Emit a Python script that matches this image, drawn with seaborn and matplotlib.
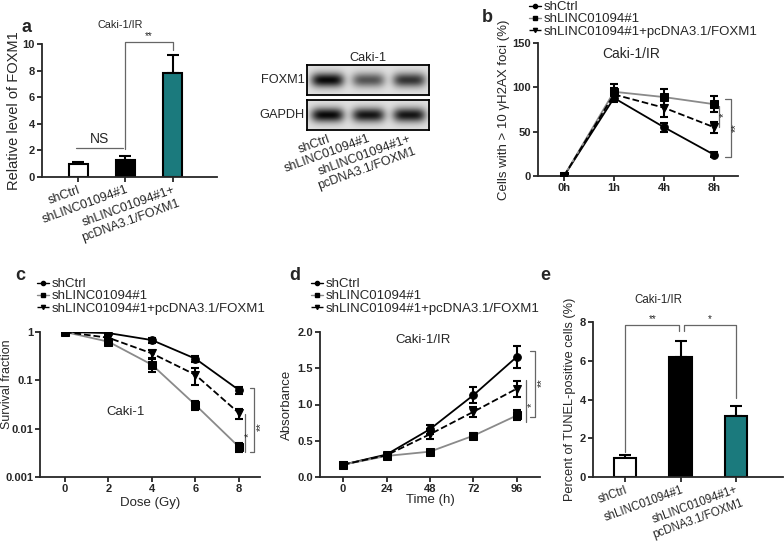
import numpy as np
import matplotlib
matplotlib.use('Agg')
import matplotlib.pyplot as plt
from matplotlib.lines import Line2D
import seaborn as sns

sns.set_style('ticks')
plt.rcParams['font.family'] = ['Liberation Sans', 'DejaVu Sans']

# ---- data ----
groups = ['shCtrl', 'shLINC01094#1', 'shLINC01094#1+pcDNA3.1/FOXM1']
bar_labels = ['shCtrl', 'shLINC01094#1', 'shLINC01094#1+\npcDNA3.1/FOXM1']
bar_colors = ['white', 'black', '#0b8a8d']

foxm1_mean = [1.0, 1.3, 7.85]
foxm1_err = [0.15, 0.25, 1.35]

blot_proteins = ['FOXM1', 'GAPDH']
blot_foxm1 = [0.85, 0.55, 0.68]
blot_gapdh = [0.85, 0.80, 0.80]

foci_times = ['0h', '1h', '4h', '8h']
foci_ctrl = [0, 88, 55, 24]
foci_ctrl_err = [0, 5, 5, 3]
foci_sh = [0, 95, 89, 81]
foci_sh_err = [0, 9, 9, 9]
foci_combo = [0, 92, 77, 55]
foci_combo_err = [0, 7, 10, 6]

dose = [0, 2, 4, 6, 8]
surv_ctrl = [1.0, 0.95, 0.68, 0.28, 0.063]
surv_ctrl_err = [0.0, 0.04, 0.08, 0.04, 0.01]
surv_sh = [1.0, 0.63, 0.21, 0.031, 0.0042]
surv_sh_err = [0.0, 0.05, 0.06, 0.007, 0.0009]
surv_combo = [1.0, 0.76, 0.36, 0.13, 0.021]
surv_combo_err = [0.0, 0.05, 0.07, 0.05, 0.005]

time_h = [0, 24, 48, 72, 96]
abs_ctrl = [0.17, 0.31, 0.66, 1.13, 1.66]
abs_ctrl_err = [0.01, 0.02, 0.06, 0.11, 0.15]
abs_sh = [0.17, 0.29, 0.35, 0.57, 0.85]
abs_sh_err = [0.01, 0.01, 0.02, 0.04, 0.07]
abs_combo = [0.17, 0.30, 0.59, 0.90, 1.22]
abs_combo_err = [0.01, 0.02, 0.07, 0.07, 0.11]

tunel_mean = [1.0, 6.2, 3.15]
tunel_err = [0.12, 0.8, 0.5]

# line styles for the three groups
line_colors = ['black', '#8a8a8a', 'black']
line_styles = ['-', '-', '--']
line_markers = ['o', 's', 'v']

W, H = 784, 545
fig = plt.figure(figsize=(W / 100, H / 100), dpi=100)


def px_axes(x0, y0, x1, y1):
    # axes from pixel box (top-left origin)
    return fig.add_axes([x0 / W, 1 - y1 / H, (x1 - x0) / W, (y1 - y0) / H])


def style_axis(ax, size=8):
    sns.despine(ax=ax)
    for s in ['left', 'bottom']:
        ax.spines[s].set_linewidth(1.3)
    ax.tick_params(width=1.3, length=3.5, labelsize=size, pad=1.5)
    plt.setp(ax.get_yticklabels(), fontweight='bold')
    plt.setp(ax.get_xticklabels(), fontweight='bold')


def bracket(ax, xs, ys, **kw):
    ax.plot(xs, ys, color='#666666', lw=0.9, clip_on=False, **kw)


def draw_bars(ax, means, errs, size):
    sns.barplot(x=bar_labels, y=means, hue=bar_labels, palette=bar_colors,
                legend=False, width=0.4, edgecolor='black', linewidth=1.5,
                ax=ax, zorder=2)
    ax.errorbar(range(len(means)), means, yerr=[np.zeros(len(errs)), errs],
                fmt='none', ecolor='black', elinewidth=1.5, capsize=4,
                capthick=1.5, zorder=1)
    style_axis(ax)
    ax.set_xticks(range(len(means)))
    ax.set_xticklabels(bar_labels, rotation=20, ha='right',
                       rotation_mode='anchor', fontsize=size, fontweight='normal')


def draw_lines(ax, x, series, errs):
    for y, e, c, ls, m in zip(series, errs, line_colors, line_styles, line_markers):
        sns.lineplot(x=x, y=y, ax=ax, color=c, linestyle=ls, marker=m,
                     markersize=5.5, markerfacecolor='black',
                     markeredgecolor='black', linewidth=1.3, zorder=2)
        ax.errorbar(x, y, yerr=e, fmt='none', ecolor='black', elinewidth=1.5,
                    capsize=3, capthick=1.5, zorder=3)


def line_legend(x, y):
    handles = [Line2D([], [], color=c, linestyle=ls, marker=m, markersize=3,
                      markerfacecolor='black', markeredgecolor='black', lw=1)
               for c, ls, m in zip(line_colors, line_styles, line_markers)]
    fig.legend(handles, groups, loc='upper left',
               bbox_to_anchor=(x / W, 1 - y / H), frameon=False,
               fontsize=9.5, handlelength=0.9, handletextpad=0.2,
               labelspacing=0.0, borderpad=0, borderaxespad=0)


def panel_letter(x, y, s):
    fig.text(x / W, 1 - y / H, s, fontsize=13, fontweight='bold',
             ha='center', va='center')


# ---- panel a: bars ----
ax = px_axes(42, 44, 217, 177)
draw_bars(ax, foxm1_mean, foxm1_err, 9)
ax.set_xlim(-0.76, 2.93)
ax.set_ylim(0, 10)
ax.set_yticks([0, 2, 4, 6, 8, 10])
plt.setp(ax.get_yticklabels(), fontweight='bold')
ax.set_ylabel('Relative level of FOXM1', fontsize=10.5, labelpad=1)
bracket(ax, [-0.04, 0.95], [2.2, 2.2])
ax.text(0.45, 2.35, 'NS', fontsize=10, ha='center', va='bottom')
bracket(ax, [1, 1, 2, 2], [2.1, 10.15, 10.15, 9.55])
ax.text(1.5, 10.2, '**', fontsize=7, ha='center', va='bottom')
fig.text(120 / W, 1 - 25 / H, 'Caki-1/IR', fontsize=7.8, ha='center', va='center')
panel_letter(26, 27, 'a')

# ---- western blot ----
xg = np.linspace(0, 3, 240)
yg = np.linspace(0, 1, 60)
XX, YY = np.meshgrid(xg, yg)
for i, (prot, amps) in enumerate(zip(blot_proteins, [blot_foxm1, blot_gapdh])):
    top = 65 + i * 35
    bax = px_axes(307, top, 429, top + 30)
    img = np.full(XX.shape, 0.88)
    for k, a in enumerate(amps):
        band = np.exp(-((XX - (k + 0.5)) / 0.4) ** 4) * np.exp(-((YY - 0.5) / 0.24) ** 2)
        img -= a * band
    bax.imshow(img, cmap='gray', vmin=0, vmax=1, aspect='auto',
               extent=[0, 3, 0, 1], interpolation='bilinear')
    for s in bax.spines.values():
        s.set_linewidth(1.3)
        s.set_color('black')
    bax.set_yticks([])
    bax.set_xticks([])
    bax.text(-0.02, 0.5, prot, transform=bax.transAxes, ha='right',
             va='center', fontsize=9.2)
    if i == 0:
        bax.set_title('Caki-1', fontsize=9.2, pad=3)
    else:
        bax.set_xticks([0.5, 1.5, 2.5])
        bax.set_xticklabels(bar_labels, rotation=20, ha='right',
                            rotation_mode='anchor', fontsize=9)
        bax.tick_params(length=0, pad=2)

# ---- panel b: foci ----
ax = px_axes(538, 43, 738, 176)
xb = list(range(len(foci_times)))
draw_lines(ax, xb, [foci_ctrl, foci_sh, foci_combo],
           [foci_ctrl_err, foci_sh_err, foci_combo_err])
ax.set_xlim(-0.52, 3.48)
ax.set_ylim(0, 150)
ax.set_yticks([0, 50, 100, 150])
ax.set_xticks(xb)
ax.set_xticklabels(foci_times)
style_axis(ax)
ax.set_ylabel('Cells with > 10 \u03b3H2AX foci (%)', fontsize=9.5, labelpad=2)
ax.text(1.35, 145, 'Caki-1/IR', fontsize=10, ha='center', va='top')
bracket(ax, [3.1, 3.1], [foci_sh[-1] - 2, foci_combo[-1]])
ax.text(3.2, 69, '*', fontsize=8, rotation=90, ha='center', va='center')
bracket(ax, [3.22, 3.34, 3.34, 3.22], [87, 87, 21, 21])
ax.text(3.43, 54, '**', fontsize=8, rotation=90, ha='center', va='center')
line_legend(529, 1)
panel_letter(487, 18, 'b')

# ---- panel c: survival ----
ax = px_axes(40, 332, 260, 477)
draw_lines(ax, dose, [surv_ctrl, surv_sh, surv_combo],
           [surv_ctrl_err, surv_sh_err, surv_combo_err])
ax.set_yscale('log')
ax.set_ylim(0.001, 1)
ax.set_xlim(-1.15, 8.97)
ax.set_xticks(dose)
ax.set_yticks([0.001, 0.01, 0.1, 1])
ax.set_yticklabels(['0.001', '0.01', '0.1', '1'])
ax.minorticks_off()
style_axis(ax)
ax.set_ylabel('Survival fraction', fontsize=9)
ax.yaxis.set_label_coords((13.5 - 40) / 220, 0.64)
ax.set_xlabel('Dose (Gy)', fontsize=9.5, labelpad=2)
ax.text(2.8, 0.022, 'Caki-1', fontsize=9.5, ha='center', va='center')
bracket(ax, [8.28, 8.28], [0.02, 0.0033])
ax.text(8.48, 0.0075, '*', fontsize=8, rotation=90, ha='center', va='center')
bracket(ax, [8.5, 8.69, 8.69, 8.5], [0.068, 0.068, 0.0033, 0.0033])
ax.text(9.0, 0.011, '**', fontsize=8, rotation=90, ha='center', va='center')
line_legend(37, 278)
panel_letter(20, 276, 'c')

# ---- panel d: absorbance ----
ax = px_axes(320, 332, 540, 477)
draw_lines(ax, time_h, [abs_ctrl, abs_sh, abs_combo],
           [abs_ctrl_err, abs_sh_err, abs_combo_err])
ax.set_xlim(-12.7, 108.7)
ax.set_ylim(0, 2.0)
ax.set_xticks(time_h)
ax.set_yticks([0, 0.5, 1.0, 1.5, 2.0])
ax.set_yticklabels(['0.0', '0.5', '1.0', '1.5', '2.0'])
style_axis(ax)
ax.set_ylabel('Absorbance', fontsize=9.5, labelpad=3)
ax.set_xlabel('Time (h)', fontsize=9.5, labelpad=0)
ax.text(44, 1.97, 'Caki-1/IR', fontsize=9.5, ha='center', va='top')
bracket(ax, [101, 101], [1.34, 0.76])
ax.text(104, 1.0, '*', fontsize=8, rotation=90, ha='center', va='center')
bracket(ax, [103, 106, 106, 103], [1.74, 1.74, 0.83, 0.83])
ax.text(109.5, 1.3, '**', fontsize=8, rotation=90, ha='center', va='center')
line_legend(311, 278)
panel_letter(295, 276, 'd')

# ---- panel e: TUNEL ----
ax = px_axes(593, 322, 783, 477)
draw_bars(ax, tunel_mean, tunel_err, 8.3)
ax.set_xlim(-0.58, 2.85)
ax.set_ylim(0, 8)
ax.set_yticks([0, 2, 4, 6, 8])
plt.setp(ax.get_yticklabels(), fontweight='bold')
ax.set_ylabel('Percent of TUNEL-positive cells (%)', fontsize=9.2, labelpad=3)
bracket(ax, [0, 0, 0.975, 0.975], [1.3, 7.86, 7.86, 7.55])
ax.text(0.5, 7.9, '**', fontsize=7, ha='center', va='bottom')
bracket(ax, [1.066, 1.066, 2.0, 2.0], [7.55, 7.86, 7.86, 4.1])
ax.text(1.53, 7.9, '*', fontsize=7, ha='center', va='bottom')
fig.text(658 / W, 1 - 300 / H, 'Caki-1/IR', fontsize=8.3, ha='center', va='center')
panel_letter(545, 276, 'e')

fig.savefig('out.png', dpi=100)
